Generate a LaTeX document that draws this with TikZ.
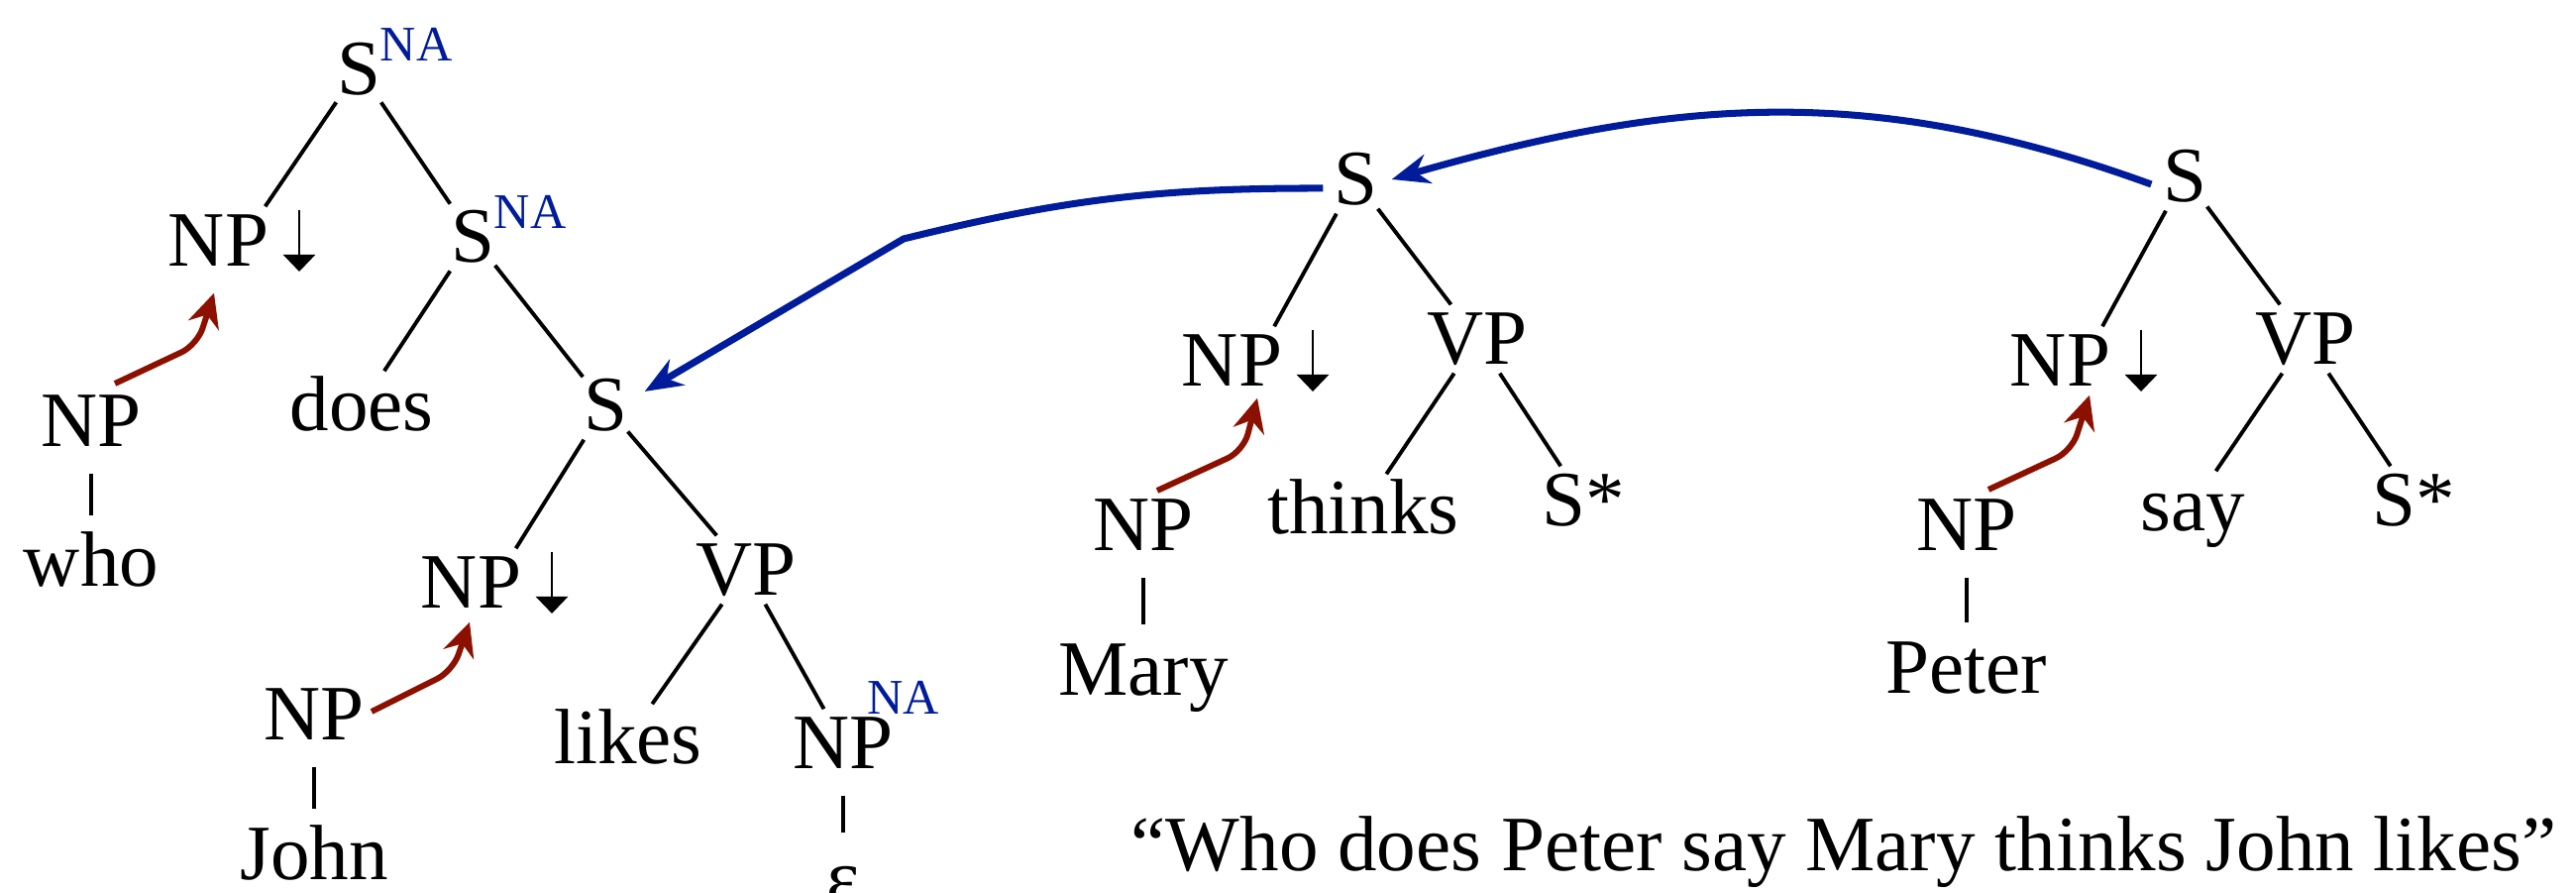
\documentclass[tikz,border=0pt]{standalone}
\usepackage{fontspec}
\setmainfont{Liberation Serif}
\usepackage{xcolor}
\usetikzlibrary{positioning,arrows.meta}

\definecolor{adjblue}{RGB}{0,28,155}
\definecolor{subred}{RGB}{140,16,0}
% NA mark: #1 = kern, #2 = raise
\newcommand{\natag}[2]{\rlap{\kern#1\raisebox{#2}{\fontsize{14.3}{16}\selectfont\color{adjblue}NA}}}
% substitution down arrow
\newcommand{\substarrow}{\kern0.15cm\tikz[baseline=0pt]\draw[line width=0.8pt, -{Triangle[length=1.7mm, width=3.2mm]}] (0,0.57) -- (0,-0.05);}

\begin{document}
\begin{tikzpicture}[
    on grid,
    cat/.style={inner sep=0pt, text height=0.60cm, text depth=0.08cm, font=\fontsize{22.5}{27}\selectfont},
    br/.style={line width=1.1pt},
    lex/.style={line width=1.1pt, shorten <=0.18cm, shorten >=0.11cm},
    adj/.style={-{Stealth[length=3.8mm, width=3mm]}, line width=2pt, adjblue, line join=round},
    subst/.style={-{Stealth[length=3.4mm, width=3.2mm]}, line width=1.7pt, subred, rounded corners=5pt}
]
    \useasboundingbox (0,0) rectangle (26,9.01);

    % who tree
    \node[cat] (wroot) at (3.62,8.31) {S\natag{0pt}{0.34cm}};
    \node[cat, below left=1.73cm and 1.18cm of wroot] (wnp) {NP\substarrow};
    \node[cat, below right=1.69cm and 1.15cm of wroot] (wsna) {S\natag{0pt}{0.34cm}};
    \node[cat, below left=1.70cm and 1.12cm of wsna] (wdoes) {does};
    \node[cat, below right=1.70cm and 1.34cm of wsna] (ws) {S};
    \node[cat, below left=1.79cm and 1.12cm of ws] (wnpd) {NP\substarrow};
    \node[cat, below right=1.66cm and 1.42cm of ws] (wvp) {VP};
    \node[cat, below left=1.70cm and 1.19cm of wvp] (wlikes) {likes};
    \node[cat, below right=1.75cm and 0.98cm of wvp] (wnpe) {NP\natag{-0.26cm}{0.55cm}};
    \node[cat, below=1.36cm of wnpe] (weps) {ε};
    \draw[br] (wroot) -- (wnp);
    \draw[br] (wroot) -- (wsna);
    \draw[br] (wsna) -- (wdoes);
    \draw[br] (wsna) -- (ws);
    \draw[br] (ws) -- (wnpd);
    \draw[br] (ws) -- (wvp);
    \draw[br] (wvp) -- (wlikes);
    \draw[br] (wvp) -- (wnpe);
    \draw[lex] (wnpe) -- (weps);

    % initial NP trees
    \node[cat] (wnpw) at (0.92,4.76) {NP};
    \node[cat, below=1.41cm of wnpw] (wwho) {who};
    \draw[lex] (wnpw) -- (wwho);
    \node[cat] (wnpj) at (3.17,1.80) {NP};
    \node[cat, below=1.41cm of wnpj] (wjohn) {John};
    \draw[lex] (wnpj) -- (wjohn);

    % thinks tree
    \node[cat] (ms) at (13.68,7.20) {S};
    \node[cat, below left=1.83cm and 1.01cm of ms] (mnp) {NP\substarrow};
    \node[cat, below right=1.61cm and 1.23cm of ms] (mvp) {VP};
    \node[cat, below left=1.71cm and 1.15cm of mvp] (mthinks) {thinks};
    \node[cat, below right=1.63cm and 1.07cm of mvp] (mstar) {S*};
    \draw[br] (ms) -- (mnp);
    \draw[br] (ms) -- (mvp);
    \draw[br] (mvp) -- (mthinks);
    \draw[br] (mvp) -- (mstar);
    \node[cat] (mnpm) at (11.54,3.71) {NP};
    \node[cat, below=1.46cm of mnpm] (mmary) {Mary};
    \draw[lex] (mnpm) -- (mmary);

    % say tree
    \node[cat] (ps) at (22.05,7.23) {S};
    \node[cat, below left=1.86cm and 1.02cm of ps] (pnp) {NP\substarrow};
    \node[cat, below right=1.64cm and 1.22cm of ps] (pvp) {VP};
    \node[cat, below left=1.68cm and 1.14cm of pvp] (psay) {say};
    \node[cat, below right=1.63cm and 1.09cm of pvp] (pstar) {S*};
    \draw[br] (ps) -- (pnp);
    \draw[br] (ps) -- (pvp);
    \draw[br] (pvp) -- (psay);
    \draw[br] (pvp) -- (pstar);
    \node[cat] (pnpp) at (19.85,3.71) {NP};
    \node[cat, below=1.44cm of pnpp] (ppeter) {Peter};
    \draw[lex] (pnpp) -- (ppeter);

    % substitution
    \draw[subst] (wnpw) ++(0.24,0.38) -- ++(0.83,0.39) -- ([xshift=-0.28cm, yshift=-0.18cm]wnp.south);
    \draw[subst] (wnpj) ++(0.58,0.03) -- ++(0.82,0.41) -- ([xshift=-0.25cm, yshift=-0.05cm]wnpd.south);
    \draw[subst] (mnpm) ++(0.14,0.35) -- ++(0.87,0.40) -- ([xshift=0.02cm, yshift=-0.03cm]mnp.south);
    \draw[subst] (pnpp) ++(0.22,0.36) -- ++(0.84,0.39) -- ([xshift=0.06cm]pnp.south);

    % adjunction
    \coordinate (elbow) at (9.12,6.60);
    \draw[adj] ([xshift=-0.11cm, yshift=-0.08cm]ps.west) to[out=160, in=16] ([xshift=0.14cm]ms.east);
    \draw[adj] ([xshift=-0.10cm, yshift=-0.09cm]ms.west) to[bend right=7] (elbow) -- ([xshift=0.17cm, yshift=0.14cm]ws.east);

    \node[anchor=base, font=\fontsize{22.5}{27}\selectfont] (sent) at (18.61,0.22) {``Who does Peter say Mary thinks John likes''};
\end{tikzpicture}
\end{document}
